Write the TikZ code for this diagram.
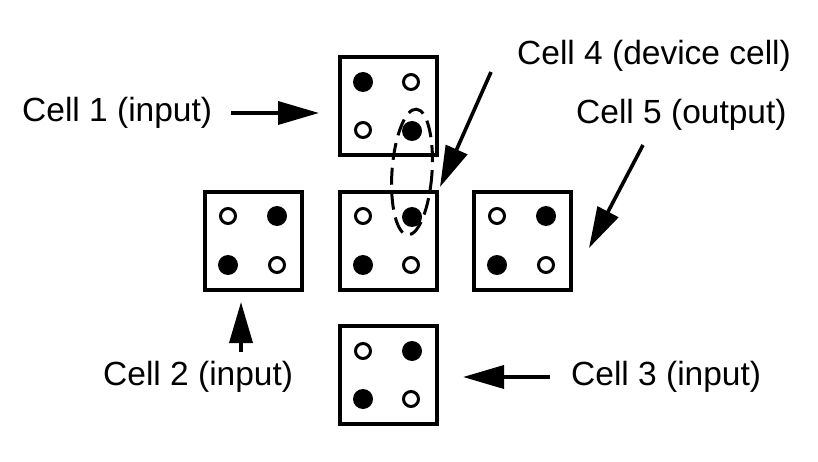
\documentclass[tikz,border=0pt]{standalone}
\usepackage{fontspec}
\setmainfont{Liberation Sans}
\usetikzlibrary{arrows.meta}
\begin{document}
\begin{tikzpicture}[x=1pt,y=-1pt,
  cellbox/.style={draw,line width=4pt,minimum width=97pt,minimum height=98pt,inner sep=0pt},
  fdot/.style={circle,fill=black,minimum size=20pt,inner sep=0pt},
  odot/.style={circle,draw,line width=3pt,minimum size=15pt,inner sep=0pt},
  lbl/.style={font=\fontsize{33.5}{40}\selectfont,inner sep=0pt,anchor=west},
  bigarrow/.style={line width=3.6pt,-{Triangle[length=41pt,width=23pt]}}]
\useasboundingbox (0,0) rectangle (818,462);
% cells
\node[cellbox] (c1) at (388,106) {};
\node[cellbox] (c2) at (253,241) {};
\node[cellbox] (c4) at (388,241) {};
\node[cellbox] (c5) at (522,241) {};
\node[cellbox] (c3) at (388,375) {};
% dots top cell
\node[fdot] (d1a) at (363,82) {};
\node[odot] (d1b) at (411,82) {};
\node[odot] (d1c) at (363,130) {};
\node[fdot] (d1d) at (412,131) {};
% left cell
\node[odot] (d2a) at (228,216) {};
\node[fdot] (d2b) at (277,216) {};
\node[fdot] (d2c) at (228,265) {};
\node[odot] (d2d) at (277,265) {};
% center cell
\node[odot] (d4a) at (363,216) {};
\node[fdot] (d4b) at (412,217) {};
\node[fdot] (d4c) at (363,265) {};
\node[odot] (d4d) at (411,265) {};
% right cell
\node[odot] (d5a) at (497,216) {};
\node[fdot] (d5b) at (546,216) {};
\node[fdot] (d5c) at (497,265) {};
\node[odot] (d5d) at (546,265) {};
% bottom cell
\node[odot] (d3a) at (363,351) {};
\node[fdot] (d3b) at (412,351) {};
\node[fdot] (d3c) at (363,399) {};
\node[odot] (d3d) at (411,399) {};
% dashed ellipse
\draw[line width=3pt,dash pattern=on 17pt off 8pt,rotate around={-4:(412,172)}] (412,172) ellipse [x radius=20, y radius=63];
% labels
\node[lbl] (t1) at (22,113) {Cell 1 (input)};
\node[lbl] (t4) at (517,56) {Cell 4 (device cell)};
\node[lbl] (t5) at (576,115) {Cell 5 (output)};
\node[lbl] (t2) at (103,377) {Cell 2 (input)};
\node[lbl] (t3) at (571,377) {Cell 3 (input)};
% arrows
\coordinate (a1s) at (231,113);
\coordinate (a1e) at (319,113);
\draw[bigarrow] (a1s) -- (a1e);
\coordinate (a4s) at (491,72);
\coordinate (a4e) at (440,187);
\draw[bigarrow] (a4s) -- (a4e);
\coordinate (a5s) at (643,145);
\coordinate (a5e) at (589,248);
\draw[bigarrow] (a5s) -- (a5e);
\coordinate (a2s) at (241,352);
\coordinate (a2e) at (241,302);
\draw[bigarrow] (a2s) -- (a2e);
\coordinate (a3s) at (550,377);
\coordinate (a3e) at (463,377);
\draw[bigarrow] (a3s) -- (a3e);
\end{tikzpicture}
\end{document}
